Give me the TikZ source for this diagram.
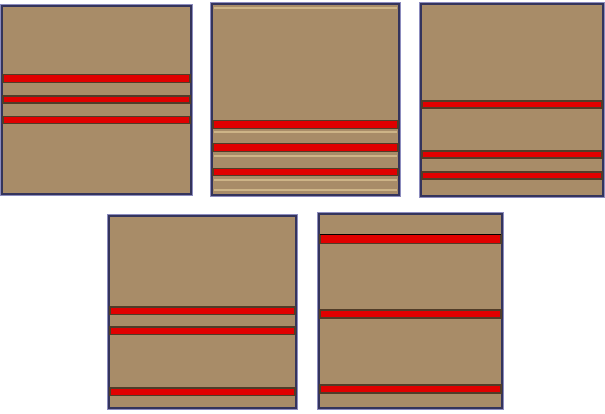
\documentclass[tikz,border=0pt]{standalone}
\definecolor{tan}{RGB}{168,140,104}
\definecolor{frame}{RGB}{52,52,92}
\definecolor{glow}{RGB}{140,140,190}
\definecolor{band}{RGB}{224,0,0}
\definecolor{bandedge}{RGB}{80,60,40}
\definecolor{light}{RGB}{205,180,135}
\tikzset{
  panel/.style={fill=tan, draw=frame, line width=2pt},
  halo/.style={draw=glow, line width=1pt},
  redband/.style={fill=band, draw=bandedge, line width=1.2pt},
  lightline/.style={draw=light, line width=2pt}
}
\newcommand{\panelbox}[4]{%
  \draw[halo] (#1-1.8,#2-1.8) rectangle (#3+1.8,#4+1.8);
  \draw[panel] (#1,#2) rectangle (#3,#4);}
\newcommand{\redstrip}[4]{\draw[redband] (#1,#2) rectangle (#3,#4);}
\begin{document}
\begin{tikzpicture}[x=1pt,y=-1pt]
\useasboundingbox (0,0) rectangle (605,414);
\fill[white] (0,0) rectangle (605,414);
% panel 1
\panelbox{2}{6}{191}{194}
\redstrip{3}{74.5}{190}{82.5}
\redstrip{3}{96}{190}{103}
\redstrip{3}{116.5}{190}{123.5}
% panel 2
\panelbox{212}{4}{399}{195}
\draw[lightline] (214,8.5) -- (397,8.5);
\draw[lightline] (214,132.5) -- (397,132.5);
\draw[lightline] (214,156) -- (397,156);
\draw[lightline] (214,180.5) -- (397,180.5);
\draw[lightline] (214,190.5) -- (397,190.5);
\redstrip{213}{120.5}{398}{128.5}
\redstrip{213}{143.5}{398}{151.5}
\redstrip{213}{168.5}{398}{175.5}
% panel 3
\panelbox{421}{4}{603}{196}
\redstrip{422}{101}{602}{108}
\redstrip{422}{151}{602}{158}
\redstrip{422}{172}{602}{179}
% panel 4
\panelbox{109}{216}{296}{408}
\redstrip{110}{307}{295}{314.5}
\redstrip{110}{327}{295}{334.5}
\redstrip{110}{388}{295}{395.5}
% panel 5
\panelbox{319}{214}{502}{408}
\redstrip{320}{234.5}{501}{243.5}
\draw[black, line width=1pt] (320,234.5) -- (501,234.5);
\redstrip{320}{310}{501}{318}
\redstrip{320}{385}{501}{393}
\end{tikzpicture}
\end{document}
